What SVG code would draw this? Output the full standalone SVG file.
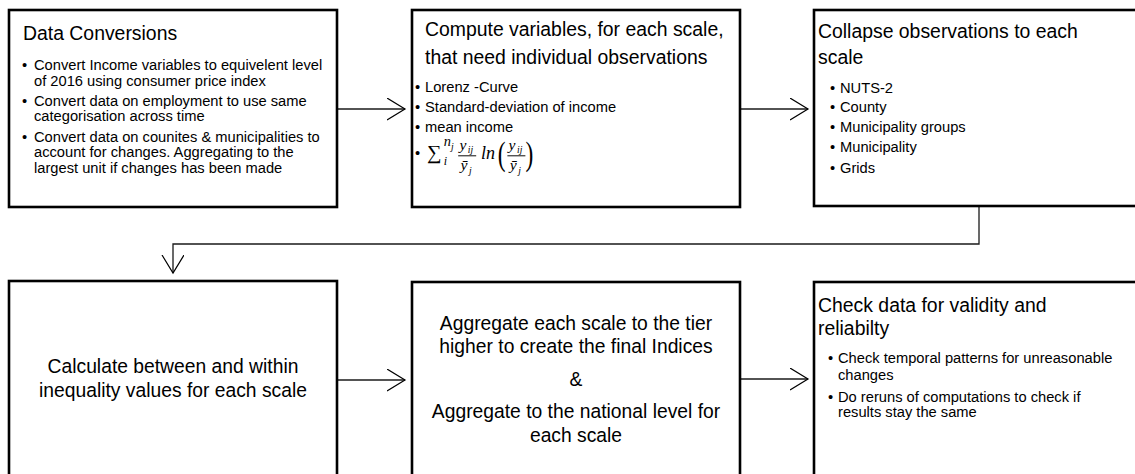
<svg xmlns="http://www.w3.org/2000/svg" width="1135" height="474" viewBox="0 0 1135 474">
<defs>
<marker id="arr" markerWidth="20" markerHeight="24" refX="18" refY="11" orient="auto" markerUnits="userSpaceOnUse">
<path d="M0,0 L18,11 L0,22" fill="none" stroke="#000" stroke-width="1.2"/>
</marker>
<style>
.box{fill:#fff;stroke:#000;stroke-width:2.6}
.con{fill:none;stroke:#1a1a1a;stroke-width:1.3}
.t{font-family:"Liberation Sans",Arial,sans-serif;fill:#000}
.title{font-size:19.4px}
.body{font-size:14.7px}
.mid{font-size:19.3px;text-anchor:middle}
.m{font-family:"Liberation Serif","Times New Roman",serif;font-style:italic;fill:#000}
</style>
</defs>
<rect width="1135" height="474" fill="#fff"/>

<g id="connectors">
<line class="con" x1="337" y1="109" x2="405" y2="109" marker-end="url(#arr)"/>
<line class="con" x1="740" y1="109" x2="808" y2="109" marker-end="url(#arr)"/>
<polyline class="con" points="979,207 979,244 173,244 173,273" marker-end="url(#arr)"/>
<line class="con" x1="337" y1="380" x2="405" y2="380" marker-end="url(#arr)"/>
<line class="con" x1="740" y1="379" x2="808" y2="379" marker-end="url(#arr)"/>
</g>

<g id="node-data-conversions">
<rect class="box" x="9" y="10" width="328" height="197"/>
<text class="t title" x="23" y="40">Data Conversions</text>
<g class="t body">
<text x="22" y="70">•</text><text x="34" y="70">Convert Income variables to equivelent level</text>
<text x="34" y="86">of 2016 using consumer price index</text>
<text x="22" y="106">•</text><text x="34" y="106">Convert data on employment to use same</text>
<text x="34" y="121">categorisation across time</text>
<text x="22" y="142">•</text><text x="34" y="142">Convert data on counites &amp; municipalities to</text>
<text x="34" y="157">account for changes. Aggregating to the</text>
<text x="34" y="173">largest unit if changes has been made</text>
</g>
</g>

<g id="node-compute-variables">
<rect class="box" x="412" y="10" width="328" height="197"/>
<text class="t title" x="425" y="36">Compute variables, for each scale,</text>
<text class="t title" x="425" y="64">that need individual observations</text>
<g class="t body">
<text x="415" y="92">•</text><text x="425" y="92">Lorenz -Curve</text>
<text x="415" y="112">•</text><text x="425" y="112">Standard-deviation of income</text>
<text x="415" y="132">•</text><text x="425" y="132">mean income</text>
<text x="415" y="158">•</text>
</g>
<g id="formula" transform="translate(427,157) scale(1.2) translate(-427,-157)">
<text x="427" y="159" font-family="'Liberation Serif',serif" font-size="17" fill="#000">∑</text>
<text class="m" x="441" y="148" font-size="12">n</text>
<text class="m" x="447" y="151" font-size="8">j</text>
<text class="m" x="441" y="164" font-size="10">i</text>
<text class="m" x="454" y="151" font-size="13">y</text>
<text class="m" x="461" y="154" font-size="8">ij</text>
<line x1="453" y1="156" x2="468" y2="156" stroke="#000" stroke-width="0.8"/>
<text class="m" x="455" y="168" font-size="13">ȳ</text>
<text class="m" x="462" y="171" font-size="8">j</text>
<text class="m" x="472" y="159" font-size="15">ln</text>
<text x="486" y="164" font-family="'Liberation Serif',serif" font-size="28" fill="#000" transform="translate(486,164) scale(0.7,1) translate(-486,-164)">(</text>
<text class="m" x="495" y="151" font-size="13">y</text>
<text class="m" x="502" y="154" font-size="8">ij</text>
<line x1="494" y1="156" x2="509" y2="156" stroke="#000" stroke-width="0.8"/>
<text class="m" x="496" y="168" font-size="13">ȳ</text>
<text class="m" x="503" y="171" font-size="8">j</text>
<text x="509" y="164" font-family="'Liberation Serif',serif" font-size="28" fill="#000" transform="translate(509,164) scale(0.7,1) translate(-509,-164)">)</text>
</g>
</g>

<g id="node-collapse">
<rect class="box" x="814" y="10" width="340" height="196"/>
<text class="t title" x="818" y="38">Collapse observations to each</text>
<text class="t title" x="818" y="64">scale</text>
<g class="t body">
<text x="830" y="93">•</text><text x="840" y="93">NUTS-2</text>
<text x="830" y="112">•</text><text x="840" y="112">County</text>
<text x="830" y="132">•</text><text x="840" y="132">Municipality groups</text>
<text x="830" y="152">•</text><text x="840" y="152">Municipality</text>
<text x="830" y="173">•</text><text x="840" y="173">Grids</text>
</g>
</g>

<g id="node-calculate">
<rect class="box" x="9" y="281" width="328" height="210"/>
<text class="t mid" x="173" y="373">Calculate between and within</text>
<text class="t mid" x="173" y="397">inequality values for each scale</text>
</g>

<g id="node-aggregate">
<rect class="box" x="412" y="282" width="328" height="210"/>
<text class="t mid" x="576" y="330">Aggregate each scale to the tier</text>
<text class="t mid" x="576" y="353">higher to create the final Indices</text>
<text class="t mid" x="576" y="386">&amp;</text>
<text class="t mid" x="576" y="418">Aggregate to the national level for</text>
<text class="t mid" x="576" y="442">each scale</text>
</g>

<g id="node-check">
<rect class="box" x="814" y="282" width="340" height="210"/>
<text class="t title" x="818" y="312">Check data for validity and</text>
<text class="t title" x="818" y="335">reliabilty</text>
<g class="t body">
<text x="828" y="363">•</text><text x="838" y="363">Check temporal patterns for unreasonable</text>
<text x="838" y="380">changes</text>
<text x="828" y="402">•</text><text x="838" y="402">Do reruns of computations to check if</text>
<text x="838" y="417">results stay the same</text>
</g>
</g>
</svg>
